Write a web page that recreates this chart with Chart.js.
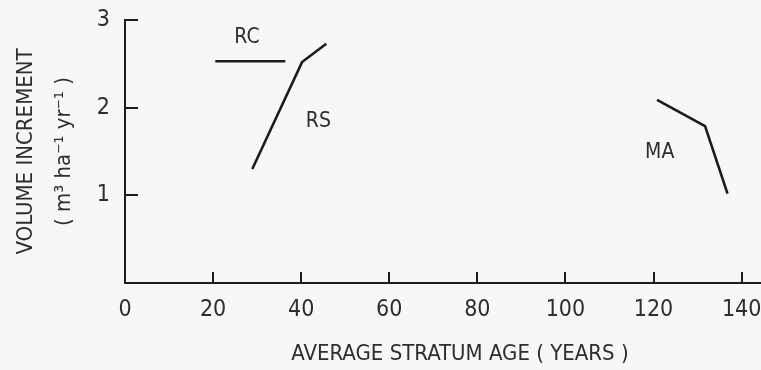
<!DOCTYPE html>
<html>
<head>
<meta charset="utf-8">
<title>Volume increment by stratum age</title>
<script src="https://cdn.jsdelivr.net/npm/chart.js@4/dist/chart.umd.min.js"></script>
<style>
  html, body { margin: 0; padding: 0; background: #f7f7f5; }
  #wrap { width: 761px; height: 370px; position: relative; }
</style>
</head>
<body>
<div id="wrap"><canvas id="chart"></canvas></div>
<script>
// values (age in years, increment in m3/ha/yr)
const rcAge = [20.5, 36.4];
const rcInc = [2.53, 2.53];
const rsAge = [28.9, 40.2, 45.7];
const rsInc = [1.30, 2.52, 2.73];
const maAge = [120.8, 131.7, 136.8];
const maInc = [2.09, 1.79, 1.02];

const curveNames = ['RC', 'RS', 'MA'];
const nameAge = [27.7, 43.9, 121.4];
const nameInc = [2.80, 1.84, 1.49];

const xTitle = 'AVERAGE STRATUM AGE ( YEARS )';
const yTitle = ['VOLUME INCREMENT', '( m\u00b3 ha\u207b\u00b9 yr\u207b\u00b9 )'];

const INK = '#1c1c1c';
const TEXT = '#2e2e2e';
const FONT = "'Liberation Sans Narrow', 'DejaVu Sans Condensed', 'Arial Narrow', sans-serif";

const toPoints = (xs, ys) => xs.map((x, i) => ({ x, y: ys[i] }));

const lineStyle = {
  showLine: true,
  borderColor: INK,
  borderWidth: 2.6,
  pointRadius: 0,
  fill: false,
  tension: 0
};

// curve names and x title drawn on the canvas
const textPlugin = {
  id: 'curveText',
  afterDatasetsDraw(chart) {
    const { ctx, scales: { x, y } } = chart;
    ctx.save();
    ctx.fillStyle = TEXT;
    ctx.textAlign = 'center';
    ctx.textBaseline = 'middle';
    ctx.font = `21px ${FONT}`;
    curveNames.forEach((name, i) => {
      ctx.fillText(name, x.getPixelForValue(nameAge[i]), y.getPixelForValue(nameInc[i]));
    });
    ctx.font = `22px ${FONT}`;
    ctx.fillText(xTitle, 460, 354);
    ctx.restore();
  }
};

new Chart(document.getElementById('chart'), {
  type: 'scatter',
  data: {
    datasets: [
      { label: 'RC', data: toPoints(rcAge, rcInc), ...lineStyle },
      { label: 'RS', data: toPoints(rsAge, rsInc), ...lineStyle },
      { label: 'MA', data: toPoints(maAge, maInc), ...lineStyle }
    ]
  },
  options: {
    responsive: true,
    maintainAspectRatio: false,
    animation: false,
    layout: { padding: { top: 20, right: 0, bottom: 0, left: 0 } },
    plugins: {
      legend: { display: false },
      tooltip: { enabled: false }
    },
    scales: {
      x: {
        type: 'linear',
        min: 0,
        max: 144.4,
        border: { display: true, color: INK, width: 2 },
        grid: { drawOnChartArea: false, drawTicks: true, tickLength: -11, color: INK, lineWidth: 2 },
        ticks: {
          stepSize: 20,
          includeBounds: false,
          padding: 24,
          color: TEXT,
          font: { family: FONT, size: 23 }
        },
        afterFit(scale) {
          scale.height = 87;
          scale.paddingLeft = 0;
          scale.paddingRight = 0;
        }
      },
      y: {
        min: 0,
        max: 3,
        border: { display: true, color: INK, width: 2 },
        grid: { drawOnChartArea: false, drawTicks: true, tickLength: -13, color: INK, lineWidth: 2 },
        ticks: {
          stepSize: 1,
          padding: 28,
          color: TEXT,
          font: { family: FONT, size: 23 },
          callback: v => (v === 0 ? '' : v)
        },
        title: {
          display: true,
          text: yTitle,
          color: TEXT,
          font: { family: FONT, size: 22, lineHeight: 1.75 },
          padding: { top: 7, bottom: 0 }
        },
        afterFit(scale) {
          scale.width = 125;
          scale.paddingTop = 0;
          scale.paddingBottom = 0;
        }
      }
    }
  },
  plugins: [textPlugin]
});
</script>
</body>
</html>
